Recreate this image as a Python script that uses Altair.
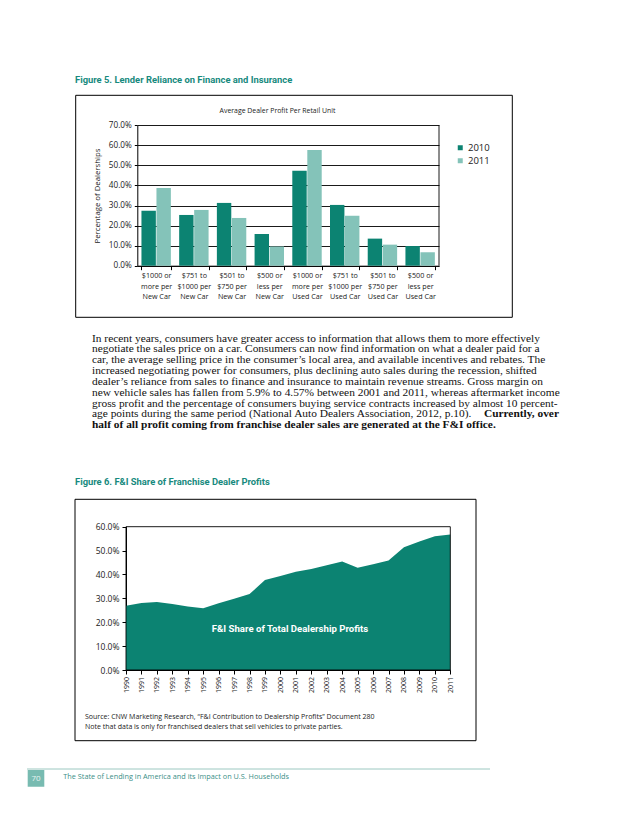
import altair as alt
import pandas as pd

# ---------------- data ----------------
categories = [
    "$1000 or|more per|New Car", "$751 to|$1000 per|New Car", "$501 to|$750 per|New Car",
    "$500 or|less per|New Car", "$1000 or|more per|Used Car", "$751 to|$1000 per|Used Car",
    "$501 to|$750 per|Used Car", "$500 or|less per|Used Car",
]
series = ["2010", "2011"]
share_2010 = [27.4, 25.3, 31.3, 15.8, 47.4, 30.3, 13.5, 9.8]
share_2011 = [38.7, 27.8, 23.8, 9.6, 57.7, 24.9, 10.5, 6.7]
fig5_ticks = [0, 10, 20, 30, 40, 50, 60, 70]

years = list(range(1990, 2012))
fi_share = [26.9, 28.1, 28.5, 27.6, 26.6, 25.9, 27.9, 29.8, 31.8, 37.7, 39.4, 41.1,
            42.3, 43.9, 45.4, 42.8, 44.3, 45.8, 51.4, 53.8, 56.0, 56.7]
fig6_ticks = [0, 10, 20, 30, 40, 50, 60]

fig5_title = "Figure 5. Lender Reliance on Finance and Insurance"
fig5_chart_title = "Average Dealer Profit Per Retail Unit"
fig5_y_title = "Percentage of Dealerships"
fig6_title = "Figure 6. F&I Share of Franchise Dealer Profits"
fig6_inner = "F&I Share of Total Dealership Profits"
source_lines = [
    "Source: CNW Marketing Research, \u201cF&I Contribution to Dealership Profits\u201d Document 280",
    "Note that data is only for franchised dealers that sell vehicles to private parties.",
]
body_lines = [
    "In recent years, consumers have greater access to information that allows them to more effectively",
    "negotiate the sales price on a car. Consumers can now find information on what a dealer paid for a",
    "car, the average selling price in the consumer\u2019s local area, and available incentives and rebates. The",
    "increased negotiating power for consumers, plus declining auto sales during the recession, shifted",
    "dealer\u2019s reliance from sales to finance and insurance to maintain revenue streams. Gross margin on",
    "new vehicle sales has fallen from 5.9% to 4.57% between 2001 and 2011, whereas aftermarket income",
    "gross profit and the percentage of consumers buying service contracts increased by almost 10 percent-",
    "age points during the same period (National Auto Dealers Association, 2012, p.10).",
]
bold_tail = "Currently, over"
bold_line = "half of all profit coming from franchise dealer sales are generated at the F&I office."
page_no = "70"
footer_text = "The State of Lending in America and its Impact on U.S. Households"

# ---------------- style ----------------
W, H = 622, 810
DARK = "#0c8372"
LIGHT = "#84c3b9"
TEAL_TXT = "#178a7e"
SANS = "Open Sans"
BOLDSANS = "Roboto"
SERIF = "Liberation Serif"
LAB = "#1a1a1a"
BODY_SIZE = 11.4
BODY_Y = 333.5
BODY_LH = 10.85

one = alt.Data(values=[{}])


def txt(s, x, y, size, color=LAB, font=SANS, weight="normal", align="left",
        baseline="middle", angle=0, line_height=None):
    kw = dict(text=s, align=align, baseline=baseline, fontSize=size, font=font,
              fontWeight=weight, color=color, angle=angle)
    if line_height is not None:
        kw["lineHeight"] = line_height
    return alt.Chart(one).mark_text(**kw).encode(x=alt.value(x), y=alt.value(y))


def box(x1, x2, y1, y2, fill="transparent", stroke="black", sw=1.0):
    return alt.Chart(one).mark_rect(fill=fill, stroke=stroke, strokeWidth=sw).encode(
        x=alt.value(x1), x2=alt.value(x2), y=alt.value(y1), y2=alt.value(y2))


# ---------------- Figure 5 ----------------
df5 = pd.DataFrame({
    "category": categories * 2,
    "series": [series[0]] * len(categories) + [series[1]] * len(categories),
    "share": share_2010 + share_2011,
})

x5 = alt.X("category:N", sort=categories,
           scale=alt.Scale(range=[129.3, 431.0], paddingInner=0.22, paddingOuter=0.11),
           axis=alt.Axis(orient="bottom", offset=257.7 - H, labelExpr="split(datum.label, '|')",
                         labelAngle=0, tickBand="extent", tickSize=4, labelPadding=2,
                         labelFont=SANS, labelFontSize=7.2, labelLineHeight=10.4,
                         labelBaseline="top", labelColor=LAB, domainColor="black",
                         tickColor="black", title=None, grid=False))
y5 = alt.Y("share:Q", scale=alt.Scale(domain=[0, 70], range=[257.7, 117.3], nice=False),
           axis=alt.Axis(orient="left", offset=-129.3, values=fig5_ticks,
                         labelExpr="format(datum.value, '.1f') + '%'", grid=True,
                         gridColor="black", gridWidth=0.9, domainColor="black",
                         tickColor="black", tickSize=3, labelPadding=3, labelFont=SANS,
                         labelFontSize=8.2, labelColor=LAB, title=fig5_y_title,
                         titleFont=SANS, titleFontSize=7.8, titleFontWeight="normal",
                         titleColor=LAB, titlePadding=7))

bars = alt.Chart(df5).mark_bar().encode(
    x=x5, y=y5,
    xOffset=alt.XOffset("series:N", scale=alt.Scale(paddingInner=0.04)),
    color=alt.Color("series:N", scale=alt.Scale(domain=series, range=[DARK, LIGHT]),
                    legend=alt.Legend(orient="none", legendX=447.5, legendY=135, title=None,
                                      symbolType="square", symbolSize=25, labelFont=SANS,
                                      labelFontSize=9.5, labelColor=LAB, labelOffset=3,
                                      rowPadding=2, padding=0)),
)
edge5 = alt.Chart(one).mark_rule(color="black", strokeWidth=0.9).encode(
    x=alt.value(431.0), y=alt.datum(0), y2=alt.datum(70))
fig5 = alt.layer(bars, edge5)

# ---------------- Figure 6 ----------------
df6 = pd.DataFrame({"year": years, "share": fi_share})
x6 = alt.X("year:O", scale=alt.Scale(type="point", range=[118.0, 442.3], padding=0),
           axis=alt.Axis(orient="bottom", offset=662.0 - H, values=years,
                         labelAngle=270, labelAlign="right", labelBaseline="middle",
                         tickSize=4, labelPadding=2.5, labelFont=SANS, labelFontSize=7,
                         labelColor=LAB, domainColor="black", tickColor="black",
                         title=None, grid=False, labelOverlap=False))
y6 = alt.Y("share:Q", scale=alt.Scale(domain=[0, 60], range=[662.0, 518.7], nice=False),
           axis=alt.Axis(orient="left", offset=-118.0, values=fig6_ticks,
                         labelExpr="format(datum.value, '.1f') + '%'", grid=False,
                         domainColor="black", tickColor="black", tickSize=4, labelPadding=3,
                         labelFont=SANS, labelFontSize=8.5, labelColor=LAB, title=None))
area = alt.Chart(df6).mark_area(color=DARK, opacity=1).encode(x=x6, y=y6)
frame6 = alt.Chart(one).mark_rect(fill="transparent", stroke="black", strokeWidth=0.9).encode(
    x=alt.XDatum(years[0], type="ordinal"), x2=alt.X2Datum(years[-1]),
    y=alt.datum(0), y2=alt.datum(60))
fig6 = alt.layer(area, frame6)

# ---------------- page text & decorations ----------------
layers = [
    fig5, fig6,
    txt(fig5_title, 67, 72, 9.4, color=TEAL_TXT, font=BOLDSANS, weight="bold"),
    box(67.7, 504.3, 87.3, 309.3),
    txt(fig5_chart_title, 269.5, 102.7, 6.9, align="center"),
    txt(body_lines, 84, BODY_Y, BODY_SIZE, color="#111111", font=SERIF,
        baseline="alphabetic", line_height=BODY_LH),
    txt(bold_tail, 551, BODY_Y + 7 * BODY_LH, BODY_SIZE, color="#111111", font=SERIF,
        weight="bold", align="right", baseline="alphabetic"),
    txt(bold_line, 84, BODY_Y + 8 * BODY_LH, BODY_SIZE, color="#111111", font=SERIF,
        weight="bold", baseline="alphabetic"),
    txt(fig6_title, 67, 473.7, 9.4, color=TEAL_TXT, font=BOLDSANS, weight="bold"),
    box(67.0, 468.0, 491.3, 732.7),
    txt(fig6_inner, 282, 621, 9.6, color="white", font=BOLDSANS, weight="bold", align="center"),
    txt(source_lines[0], 77, 708.5, 7),
    txt(source_lines[1], 77, 719, 7),
    alt.Chart(one).mark_rule(color="#9cc8c1", strokeWidth=1).encode(
        x=alt.value(19), x2=alt.value(482), y=alt.value(761)),
    box(19.7, 36.3, 762, 778.7, fill="#78bbb1", stroke="transparent", sw=0),
    txt(page_no, 28, 770.5, 8, color="#e8f4f2", align="center"),
    txt(footer_text, 55.3, 769.3, 7.3, color="#3b8f88"),
]

chart = alt.layer(*layers).resolve_scale(x="independent", y="independent").properties(
    width=W, height=H, autosize=alt.AutoSizeParams(type="none"), padding=0,
    background="white",
).configure_view(strokeWidth=0)

chart.save("out.html", embed_options={"renderer": "svg", "actions": False})
